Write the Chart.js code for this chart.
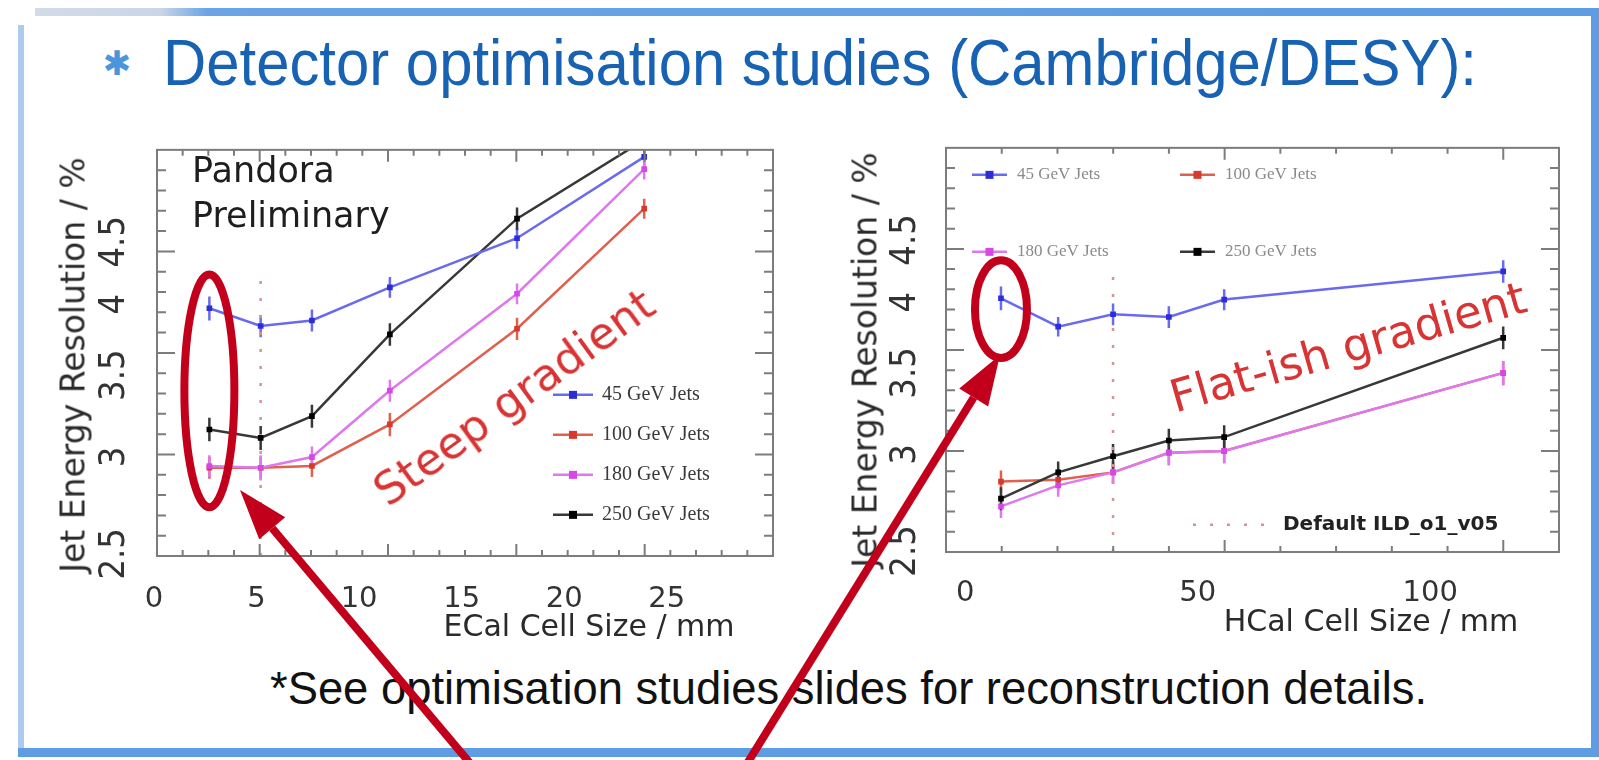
<!DOCTYPE html>
<html>
<head>
<meta charset="utf-8">
<title>Detector optimisation studies</title>
<script src="https://cdn.jsdelivr.net/npm/chart.js@4.4.1/dist/chart.umd.min.js"></script>
<style>
  html, body { margin: 0; padding: 0; background: #fff; }
  body { position: relative; width: 1599px; height: 760px; overflow: hidden; }
  .edge { position: absolute; }
  #edgeTop { left: 35px; top: 8px; width: 1564px; height: 8px;
    background: linear-gradient(to right, #d3dbe6 0%, #c9d6e8 8%, #6aa4e6 11%, #5d9de4 100%); }
  #edgeLeft { left: 18px; top: 25px; width: 6px; height: 732px; background: #aecbee; }
  #edgeBottom { left: 18px; top: 748px; width: 1581px; height: 9px; background: #5e9de3; }
  #edgeRight { left: 1591px; top: 8px; width: 8px; height: 749px; background: #5e9de3; }
  .txt { position: absolute; white-space: nowrap; line-height: 1; }
  .centred { transform: translate(-50%, -50%); }
  .axisTitle { font-family: "DejaVu Sans", sans-serif; color: #2a2a2a; }
  .note { font-family: "DejaVu Sans", sans-serif; color: #d83434; font-size: 45px; }
  canvas { position: absolute; }
</style>
</head>
<body>
<div class="edge" id="edgeTop"></div>
<div class="edge" id="edgeLeft"></div>
<div class="edge" id="edgeBottom"></div>
<div class="edge" id="edgeRight"></div>

<div class="txt centred" style="left:117px;top:63px;font:34px 'DejaVu Sans';color:#4b95dc">✱</div>
<div class="txt" id="title" style="left:163px;top:25px;font:65px 'Liberation Sans';color:#1762b3">Detector optimisation studies (Cambridge/DESY):</div>

<canvas id="ecalChart" width="745" height="520" style="left:40px;top:120px"></canvas>
<canvas id="hcalChart" width="741" height="520" style="left:830px;top:120px"></canvas>

<div class="txt axisTitle" style="left:73px;top:365px;font-size:33px;transform:translate(-50%,-50%) rotate(-90deg)">Jet Energy Resolution / %</div>
<div class="txt axisTitle" style="left:865px;top:360px;font-size:33px;transform:translate(-50%,-50%) rotate(-90deg)">Jet Energy Resolution / %</div>
<div class="txt axisTitle centred" style="left:589px;top:626px;font-size:30px">ECal Cell Size / mm</div>
<div class="txt axisTitle centred" style="left:1371px;top:621px;font-size:30px">HCal Cell Size / mm</div>

<div class="txt" style="left:192px;top:148px;font:35px 'DejaVu Sans';line-height:45px;color:#1e1e1e">Pandora<br>Preliminary</div>
<div class="txt note" style="left:514px;top:397px;transform:translate(-50%,-50%) rotate(-36deg)">Steep gradient</div>
<div class="txt note" style="left:1348px;top:347px;transform:translate(-50%,-50%) rotate(-16deg)">Flat-ish gradient</div>

<div class="txt" id="footnote" style="left:270px;top:661px;font:46px 'Liberation Sans';color:#111">*See optimisation studies slides for reconstruction details.</div>

<canvas id="marks" width="1599" height="760" style="left:0;top:0;pointer-events:none"></canvas>

<script>
// ECal cell size scan (left plot)
const ecalSize = [2.7, 5.2, 7.7, 11.5, 17.7, 23.9];
const ecalJer45 = [3.97, 3.84, 3.88, 4.13, 4.53, 5.28];
const ecalJer100 = [2.94, 2.94, 2.95, 3.19, 3.82, 4.79];
const ecalJer180 = [2.95, 2.94, 3.00, 3.40, 4.08, 5.16];
const ecalJer250 = [3.16, 3.11, 3.24, 3.78, 4.70, 5.45];
const ecalErr45 = [0.09, 0.08, 0.08, 0.08, 0.09, 0.10];
const ecalErr100 = [0.06, 0.06, 0.06, 0.07, 0.08, 0.09];
const ecalErr180 = [0.06, 0.07, 0.06, 0.07, 0.08, 0.10];
const ecalErr250 = [0.07, 0.07, 0.07, 0.08, 0.10, 0.11];

// HCal cell size scan (right plot)
const hcalSize = [7.7, 20.0, 31.8, 43.8, 55.7, 115.7];
const hcalJer45 = [4.03, 3.82, 3.91, 3.89, 4.02, 4.24];
const hcalJer100 = [2.85, 2.86, 2.90, 3.01, 3.02, 3.50];
const hcalJer180 = [2.72, 2.83, 2.90, 3.01, 3.02, 3.50];
const hcalJer250 = [2.76, 2.90, 2.99, 3.08, 3.10, 3.74];
const hcalErr45 = [0.09, 0.07, 0.08, 0.08, 0.08, 0.09];
const hcalErr100 = [0.06, 0.06, 0.06, 0.07, 0.07, 0.08];
const hcalErr180 = [0.06, 0.06, 0.06, 0.07, 0.07, 0.08];
const hcalErr250 = [0.06, 0.06, 0.07, 0.07, 0.07, 0.08];

const jerTicks = [2.5, 3, 3.5, 4, 4.5];
const ecalTicks = [0, 5, 10, 15, 20, 25];
const hcalTicks = [0, 50, 100];
const defaultCellTop = 4.25; // top of the dotted "default ILD_o1_v05" marker

const jetColours = {
  45:  { line: '#6a6aee', mark: '#2d2dd8' },
  100: { line: '#e0604f', mark: '#d63a2c' },
  180: { line: '#de78ee', mark: '#d548e6' },
  250: { line: '#383838', mark: '#000000' }
};

function fontExists(name) {
  const c = document.createElement('canvas').getContext('2d');
  const probe = '0123456789.mmmwwwiii';
  c.font = '40px monospace';
  const base = c.measureText(probe).width;
  c.font = `40px "${name}", monospace`;
  return c.measureText(probe).width !== base;
}

let yTickFont = { family: '"Liberation Sans", sans-serif', size: 36 };
if (fontExists('Liberation Sans Narrow')) yTickFont = { family: '"Liberation Sans Narrow", sans-serif', size: 40 };
else if (fontExists('DejaVu Sans Condensed')) yTickFont = { family: '"DejaVu Sans Condensed", sans-serif', size: 36 };

function widestLabel(font, labels) {
  const c = document.createElement('canvas').getContext('2d');
  c.font = `${font.size}px ${font.family}`;
  return Math.max(...labels.map(l => c.measureText(l).width));
}
const yTickHalf = widestLabel(yTickFont, jerTicks.map(String)) / 2;

function series(label, xs, ys, errs, colour, order) {
  return {
    label,
    data: xs.map((x, i) => ({ x, y: ys[i] })),
    errors: errs,
    borderColor: colour.line,
    backgroundColor: colour.mark,
    pointBackgroundColor: colour.mark,
    pointBorderWidth: 0,
    pointStyle: 'rect',
    pointRadius: 4,
    borderWidth: 2.5,
    order
  };
}

function defaultLine(x, yMin) {
  return {
    label: 'Default ILD_o1_v05',
    data: [{ x, y: yMin }, { x, y: defaultCellTop }],
    borderColor: '#d49494',
    borderDash: [3, 14],
    borderWidth: 2.5,
    pointRadius: 0,
    order: 9
  };
}

// vertical error bars, clipped to the frame
const errorBars = {
  id: 'errorBars',
  beforeDatasetsDraw(chart) {
    const { ctx, chartArea: a, scales: { x, y } } = chart;
    ctx.save();
    ctx.beginPath();
    ctx.rect(a.left, a.top, a.width, a.height);
    ctx.clip();
    ctx.lineWidth = 2.5;
    chart.data.datasets.forEach(ds => {
      if (!ds.errors) return;
      ctx.strokeStyle = ds.borderColor;
      ds.data.forEach((p, i) => {
        const px = x.getPixelForValue(p.x);
        ctx.beginPath();
        ctx.moveTo(px, y.getPixelForValue(p.y - ds.errors[i]));
        ctx.lineTo(px, y.getPixelForValue(p.y + ds.errors[i]));
        ctx.stroke();
      });
    });
    ctx.restore();
  }
};

// ROOT style box with inward ticks on all four sides
const frameTicks = {
  id: 'frameTicks',
  afterDatasetsDraw(chart, args, opts) {
    const { ctx, chartArea: a } = chart;
    ctx.save();
    ctx.strokeStyle = '#7c7c7c';
    ctx.lineWidth = 2;
    ctx.strokeRect(a.left, a.top, a.width, a.height);
    ctx.beginPath();
    for (let i = 1; i < opts.xDiv; i++) {
      const px = a.left + a.width * i / opts.xDiv;
      const big = i % 5 === opts.xMajor;
      ctx.moveTo(px, a.bottom); ctx.lineTo(px, a.bottom - (big ? 12 : 6));
      ctx.moveTo(px, a.top); ctx.lineTo(px, a.top + (big ? 12 : 6));
    }
    for (let i = 1; i < opts.yDiv; i++) {
      const py = a.top + a.height * i / opts.yDiv;
      const big = i % 5 === 0;
      ctx.moveTo(a.left, py); ctx.lineTo(a.left + (big ? 18 : 9), py);
      ctx.moveTo(a.right, py); ctx.lineTo(a.right - (big ? 18 : 9), py);
    }
    ctx.stroke();
    ctx.restore();
  }
};

// legend boxes drawn inside the frame, ROOT TLegend style
const insideLegend = {
  id: 'insideLegend',
  afterDraw(chart, args, opts) {
    const { ctx, chartArea: a } = chart;
    ctx.save();
    opts.items.forEach(item => {
      const ds = chart.data.datasets[item.index];
      const x0 = a.left + item.x, y = a.top + item.y;
      const len = item.sample || opts.sample;
      ctx.strokeStyle = ds.borderColor;
      ctx.lineWidth = ds.borderWidth;
      ctx.setLineDash(ds.borderDash || []);
      ctx.beginPath();
      ctx.moveTo(x0, y); ctx.lineTo(x0 + len, y);
      ctx.stroke();
      ctx.setLineDash([]);
      if (ds.pointRadius) {
        const r = ds.pointRadius;
        ctx.fillStyle = ds.pointBackgroundColor;
        ctx.fillRect(x0 + len / 2 - r, y - r, 2 * r, 2 * r);
      }
      ctx.font = item.font || opts.font;
      ctx.fillStyle = item.color || opts.color;
      ctx.textBaseline = 'middle';
      ctx.fillText(ds.label, x0 + len + (item.gap || opts.gap), y);
    });
    ctx.restore();
  }
};

function jerChart(id, cfg) {
  return new Chart(document.getElementById(id), {
    type: 'line',
    data: { datasets: cfg.datasets },
    plugins: [errorBars, frameTicks, insideLegend],
    options: {
      responsive: false,
      animation: false,
      events: [],
      layout: { padding: { top: 15, right: 12, left: 0, bottom: 0 } },
      plugins: {
        legend: { display: false },
        tooltip: { enabled: false },
        frameTicks: cfg.frame,
        insideLegend: cfg.legend
      },
      scales: {
        x: {
          type: 'linear',
          bounds: 'data',
          min: cfg.xRange[0],
          max: cfg.xRange[1],
          grid: { display: false },
          border: { display: false },
          afterBuildTicks: s => { s.ticks = cfg.xTicks.map(v => ({ value: v })); },
          afterFit: s => { s.height = cfg.xAxisHeight; },
          ticks: {
            autoSkip: false, maxRotation: 0, padding: cfg.xPad, color: '#333',
            font: { family: '"DejaVu Sans", sans-serif', size: 29 },
            callback: v => String(v)
          }
        },
        y: {
          type: 'logarithmic',
          bounds: 'data',
          min: cfg.yRange[0],
          max: cfg.yRange[1],
          grid: { display: false },
          border: { display: false },
          afterBuildTicks: s => { s.ticks = jerTicks.map(v => ({ value: v })); },
          afterFit: s => { s.width = cfg.yAxisWidth; },
          ticks: {
            autoSkip: false, minRotation: 90, maxRotation: 90, crossAlign: 'center',
            padding: cfg.yLabelGap - yTickHalf, color: '#333', font: yTickFont,
            callback: v => String(v)
          }
        }
      }
    }
  });
}

const ecalChart = jerChart('ecalChart', {
  datasets: [
    series('45 GeV Jets', ecalSize, ecalJer45, ecalErr45, jetColours[45], 1),
    series('100 GeV Jets', ecalSize, ecalJer100, ecalErr100, jetColours[100], 3),
    series('180 GeV Jets', ecalSize, ecalJer180, ecalErr180, jetColours[180], 2),
    series('250 GeV Jets', ecalSize, ecalJer250, ecalErr250, jetColours[250], 1),
    defaultLine(ecalSize[1], 2.49)
  ],
  xRange: [0.146, 30.18], xTicks: ecalTicks, yRange: [2.49, 5.35],
  yAxisWidth: 117, xAxisHeight: 84, xPad: 18, yLabelGap: 34,
  frame: { xDiv: 24, xMajor: 4, yDiv: 20 },
  legend: {
    sample: 40, gap: 9, font: '20px "Liberation Serif"', color: '#3a3a3a',
    items: [
      { index: 0, x: 396, y: 245 },
      { index: 1, x: 396, y: 285 },
      { index: 2, x: 396, y: 325 },
      { index: 3, x: 396, y: 365 }
    ]
  }
});

const hcalChart = jerChart('hcalChart', {
  datasets: [
    series('45 GeV Jets', hcalSize, hcalJer45, hcalErr45, jetColours[45], 1),
    series('100 GeV Jets', hcalSize, hcalJer100, hcalErr100, jetColours[100], 3),
    series('180 GeV Jets', hcalSize, hcalJer180, hcalErr180, jetColours[180], 2),
    series('250 GeV Jets', hcalSize, hcalJer250, hcalErr250, jetColours[250], 1),
    defaultLine(hcalSize[2], 2.495)
  ],
  xRange: [-4.12, 127.7], xTicks: hcalTicks, yRange: [2.495, 5.355],
  yAxisWidth: 116, xAxisHeight: 88, xPad: 16, yLabelGap: 32,
  frame: { xDiv: 11, xMajor: 0, yDiv: 20 },
  legend: {
    sample: 35, gap: 10, font: '17px "Liberation Serif"', color: '#8a8a8a',
    items: [
      { index: 0, x: 26, y: 27 },
      { index: 1, x: 234, y: 27 },
      { index: 2, x: 26, y: 104 },
      { index: 3, x: 234, y: 104 },
      { index: 4, x: 247, y: 377, sample: 77, gap: 13, font: 'bold 20px "DejaVu Sans"', color: '#222' }
    ]
  }
});

// squeeze slide text to its line width
function fitWidth(el, target) {
  const w = el.getBoundingClientRect().width;
  el.style.transformOrigin = '0 0';
  el.style.transform = `scaleX(${target / w})`;
}
fitWidth(document.getElementById('title'), 1314);
fitWidth(document.getElementById('footnote'), 1157);

// red rings around the smallest cell size and the arrows pointing at them
const marks = document.getElementById('marks').getContext('2d');
marks.strokeStyle = '#c3001b';
marks.fillStyle = '#c3001b';
marks.lineWidth = 8;

function pagePoint(chart, xv, yv) {
  const r = chart.canvas.getBoundingClientRect();
  return { x: r.left + chart.scales.x.getPixelForValue(xv), y: r.top + chart.scales.y.getPixelForValue(yv) };
}

function ring(chart, xv, yLo, yHi, rx) {
  const lo = pagePoint(chart, xv, yLo), hi = pagePoint(chart, xv, yHi);
  marks.beginPath();
  marks.ellipse(lo.x, (lo.y + hi.y) / 2, rx, (lo.y - hi.y) / 2, 0, 0, Math.PI * 2);
  marks.stroke();
}

function arrow(x0, y0, x1, y1) {
  const a = Math.atan2(y1 - y0, x1 - x0), head = 50, half = 17;
  const bx = x1 - head * Math.cos(a), by = y1 - head * Math.sin(a);
  marks.beginPath();
  marks.moveTo(x0, y0); marks.lineTo(bx, by);
  marks.stroke();
  marks.beginPath();
  marks.moveTo(x1, y1);
  marks.lineTo(bx + half * Math.sin(a), by - half * Math.cos(a));
  marks.lineTo(bx - half * Math.sin(a), by + half * Math.cos(a));
  marks.closePath();
  marks.fill();
}

ring(ecalChart, ecalSize[0], 2.73, 4.23, 25);
ring(hcalChart, hcalSize[0], 3.6, 4.33, 26);
arrow(480, 775, 240, 490);
arrow(740, 775, 1000, 355);
</script>
</body>
</html>
